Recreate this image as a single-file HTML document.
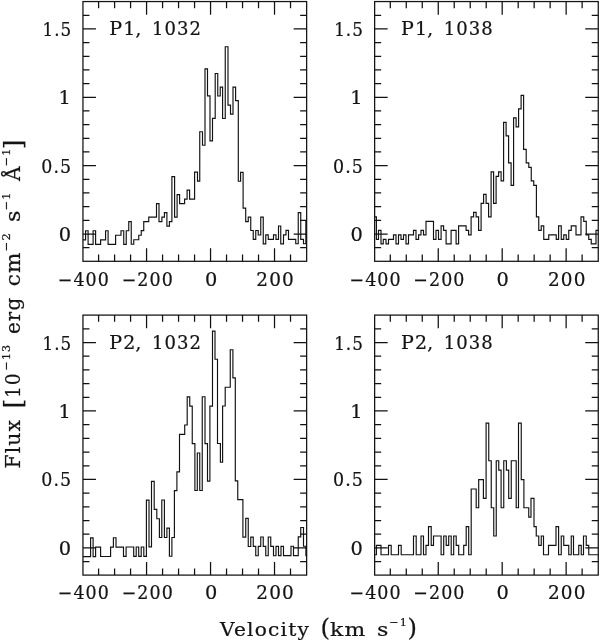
<!DOCTYPE html>
<html><head><meta charset="utf-8"><title>Flux vs Velocity</title>
<style>
html,body{margin:0;padding:0;background:#fff;}
svg{display:block;}
text{font-family:"DejaVu Serif", "Liberation Serif", serif;fill:#141414;stroke:#141414;stroke-width:0.22px;letter-spacing:1.1px;}
</style></head><body>
<svg width="600" height="641" viewBox="0 0 600 641">
<rect x="0" y="0" width="600" height="641" fill="#ffffff"/>
<rect x="82.95" y="1.55" width="223.70" height="259.75" fill="none" stroke="#111111" stroke-width="1.25"/>
<path d="M98.59 261.30v-6.7M98.59 1.55v6.7M114.59 261.30v-6.7M114.59 1.55v6.7M130.58 261.30v-6.7M130.58 1.55v6.7M146.57 261.30v-13.1M146.57 1.55v13.1M162.57 261.30v-6.7M162.57 1.55v6.7M178.56 261.30v-6.7M178.56 1.55v6.7M194.56 261.30v-6.7M194.56 1.55v6.7M210.55 261.30v-13.1M210.55 1.55v13.1M226.54 261.30v-6.7M226.54 1.55v6.7M242.54 261.30v-6.7M242.54 1.55v6.7M258.53 261.30v-6.7M258.53 1.55v6.7M274.52 261.30v-13.1M274.52 1.55v13.1M290.52 261.30v-6.7M290.52 1.55v6.7M82.95 247.67h6.5M306.65 247.67h-6.5M82.95 234.00h13.0M306.65 234.00h-13.0M82.95 220.33h6.5M306.65 220.33h-6.5M82.95 206.66h6.5M306.65 206.66h-6.5M82.95 192.99h6.5M306.65 192.99h-6.5M82.95 179.32h6.5M306.65 179.32h-6.5M82.95 165.65h13.0M306.65 165.65h-13.0M82.95 151.98h6.5M306.65 151.98h-6.5M82.95 138.31h6.5M306.65 138.31h-6.5M82.95 124.64h6.5M306.65 124.64h-6.5M82.95 110.97h6.5M306.65 110.97h-6.5M82.95 97.30h13.0M306.65 97.30h-13.0M82.95 83.63h6.5M306.65 83.63h-6.5M82.95 69.96h6.5M306.65 69.96h-6.5M82.95 56.29h6.5M306.65 56.29h-6.5M82.95 42.62h6.5M306.65 42.62h-6.5M82.95 28.95h13.0M306.65 28.95h-13.0M82.95 15.28h6.5M306.65 15.28h-6.5" fill="none" stroke="#111111" stroke-width="1.25"/>
<path d="M82.95 239.88H85.60V230.79H88.10V244.40H93.10V230.78H95.60V244.38H100.60V239.83H105.60V230.76H108.10V244.33H115.60V235.26H121.00V230.73H123.75V244.30H126.25V230.72H128.75V221.68H131.25V244.27H133.75V239.74H138.75V235.22H141.25V230.69H143.75V221.66H148.75V217.14H156.50V203.61H159.00V221.64H161.90V217.13H164.40V212.63H166.90V226.14H169.40V221.63H171.90V176.59H174.60V217.13H177.10V194.62H179.60V203.62H184.60V199.13H187.10V190.13H189.60V199.13H194.60V172.17H197.50V181.16H199.75V131.75H202.50V145.25H205.00V68.92H207.50V95.89H210.00V140.80H212.50V118.38H215.20V73.54H217.75V95.99H220.25V87.05H222.60V118.46H225.25V46.77H228.00V105.06H230.50V114.05H233.00V87.19H235.60V100.66H238.30V181.27H240.60V172.32H243.10V208.13H245.70V221.56H248.25V217.08H250.75V230.50H253.25V239.44H255.75V230.49H258.25V234.95H260.75V217.07H263.25V243.88H265.75V234.94H268.25V239.39H273.50V234.92H276.00V239.38H278.50V225.99H280.75V243.82H283.50V234.90H286.00V230.43H288.50V239.34H295.75V243.78H298.25V212.60H300.75V239.31H303.50V243.76H305.85V221.50H306.65" fill="none" stroke="#111111" stroke-width="1.15" stroke-linejoin="miter"/>
<text x="72.25" y="35.95" font-size="18.0" text-anchor="end" textLength="29.8" lengthAdjust="spacingAndGlyphs">1.5</text>
<text x="72.05" y="104.30" font-size="18.0" text-anchor="end" textLength="13.5" lengthAdjust="spacingAndGlyphs">1</text>
<text x="72.25" y="172.65" font-size="18.0" text-anchor="end" textLength="30.9" lengthAdjust="spacingAndGlyphs">0.5</text>
<text x="72.25" y="241.00" font-size="18.0" text-anchor="end" textLength="13.5" lengthAdjust="spacingAndGlyphs">0</text>
<text x="57.75" y="285.60" font-size="18.0" text-anchor="start" textLength="52.2" lengthAdjust="spacingAndGlyphs">−400</text>
<text x="121.66" y="285.60" font-size="18.0" text-anchor="start" textLength="52.2" lengthAdjust="spacingAndGlyphs">−200</text>
<text x="204.93" y="285.60" font-size="18.0" text-anchor="start" textLength="13.5" lengthAdjust="spacingAndGlyphs">0</text>
<text x="256.29" y="285.60" font-size="18.0" text-anchor="start" textLength="38.6" lengthAdjust="spacingAndGlyphs">200</text>
<text xml:space="preserve"><tspan x="109.25" y="35.05" font-size="18.00" textLength="27.2" lengthAdjust="spacingAndGlyphs">P1</tspan><tspan x="135.55" y="35.05" font-size="18.00" textLength="7.0" lengthAdjust="spacingAndGlyphs">,</tspan> <tspan x="151.95" y="35.05" font-size="18.00" textLength="50.2" lengthAdjust="spacingAndGlyphs">1032</tspan></text>
<rect x="374.65" y="1.55" width="223.60" height="259.75" fill="none" stroke="#111111" stroke-width="1.25"/>
<path d="M390.29 261.30v-6.7M390.29 1.55v6.7M406.27 261.30v-6.7M406.27 1.55v6.7M422.26 261.30v-6.7M422.26 1.55v6.7M438.25 261.30v-13.1M438.25 1.55v13.1M454.23 261.30v-6.7M454.23 1.55v6.7M470.22 261.30v-6.7M470.22 1.55v6.7M486.20 261.30v-6.7M486.20 1.55v6.7M502.19 261.30v-13.1M502.19 1.55v13.1M518.18 261.30v-6.7M518.18 1.55v6.7M534.16 261.30v-6.7M534.16 1.55v6.7M550.15 261.30v-6.7M550.15 1.55v6.7M566.14 261.30v-13.1M566.14 1.55v13.1M582.12 261.30v-6.7M582.12 1.55v6.7M374.65 247.67h6.5M598.25 247.67h-6.5M374.65 234.00h13.0M598.25 234.00h-13.0M374.65 220.33h6.5M598.25 220.33h-6.5M374.65 206.66h6.5M598.25 206.66h-6.5M374.65 192.99h6.5M598.25 192.99h-6.5M374.65 179.32h6.5M598.25 179.32h-6.5M374.65 165.65h13.0M598.25 165.65h-13.0M374.65 151.98h6.5M598.25 151.98h-6.5M374.65 138.31h6.5M598.25 138.31h-6.5M374.65 124.64h6.5M598.25 124.64h-6.5M374.65 110.97h6.5M598.25 110.97h-6.5M374.65 97.30h13.0M598.25 97.30h-13.0M374.65 83.63h6.5M598.25 83.63h-6.5M374.65 69.96h6.5M598.25 69.96h-6.5M374.65 56.29h6.5M598.25 56.29h-6.5M374.65 42.62h6.5M598.25 42.62h-6.5M374.65 28.95h13.0M598.25 28.95h-13.0M374.65 15.28h6.5M598.25 15.28h-6.5" fill="none" stroke="#111111" stroke-width="1.25"/>
<path d="M374.65 216.85H376.40V239.35H378.50V230.35H381.00V243.85H383.25V239.35H386.00V243.85H388.50V239.35H393.50V234.85H396.00V243.85H398.50V234.85H401.00V239.35H403.50V234.85H406.00V243.85H408.50V234.85H413.50V230.35H416.00V239.35H418.60V234.85H421.00V230.35H423.50V234.85H426.00V221.35H433.50V239.35H436.00V230.35H438.50V239.35H441.10V225.85H443.60V230.35H446.10V243.85H451.10V230.35H456.10V243.85H458.60V225.85H466.10V230.35H468.60V234.85H471.10V216.85H473.60V212.35H476.10V216.85H478.60V230.35H481.10V203.35H483.60V194.35H486.10V203.35H488.60V216.85H491.10V171.85H493.60V203.35H496.10V176.35H498.60V171.85H501.10V180.85H503.60V122.35H506.10V135.85H508.60V162.85H511.10V185.35H513.60V117.85H516.10V126.85H518.60V108.85H521.10V95.35H523.60V149.35H526.20V162.85H528.80V167.35H531.25V180.85H533.75V185.35H536.40V216.85H538.75V230.35H541.25V225.85H543.75V239.35H548.75V234.85H556.25V239.35H558.60V225.85H561.25V239.35H563.75V234.85H566.25V239.35H568.75V230.35H571.25V225.85H576.00V234.85H581.00V216.85H583.75V221.35H586.25V234.85H588.75V239.35H591.25V243.85H596.00V230.35H598.25" fill="none" stroke="#111111" stroke-width="1.15" stroke-linejoin="miter"/>
<text x="363.95" y="35.95" font-size="18.0" text-anchor="end" textLength="29.8" lengthAdjust="spacingAndGlyphs">1.5</text>
<text x="363.75" y="104.30" font-size="18.0" text-anchor="end" textLength="13.5" lengthAdjust="spacingAndGlyphs">1</text>
<text x="363.95" y="172.65" font-size="18.0" text-anchor="end" textLength="30.9" lengthAdjust="spacingAndGlyphs">0.5</text>
<text x="363.95" y="241.00" font-size="18.0" text-anchor="end" textLength="13.5" lengthAdjust="spacingAndGlyphs">0</text>
<text x="349.45" y="285.60" font-size="18.0" text-anchor="start" textLength="52.2" lengthAdjust="spacingAndGlyphs">−400</text>
<text x="413.34" y="285.60" font-size="18.0" text-anchor="start" textLength="52.2" lengthAdjust="spacingAndGlyphs">−200</text>
<text x="496.57" y="285.60" font-size="18.0" text-anchor="start" textLength="13.5" lengthAdjust="spacingAndGlyphs">0</text>
<text x="547.91" y="285.60" font-size="18.0" text-anchor="start" textLength="38.6" lengthAdjust="spacingAndGlyphs">200</text>
<text xml:space="preserve"><tspan x="400.95" y="35.05" font-size="18.00" textLength="27.2" lengthAdjust="spacingAndGlyphs">P1</tspan><tspan x="427.25" y="35.05" font-size="18.00" textLength="7.0" lengthAdjust="spacingAndGlyphs">,</tspan> <tspan x="443.65" y="35.05" font-size="18.00" textLength="50.2" lengthAdjust="spacingAndGlyphs">1038</tspan></text>
<rect x="82.95" y="315.10" width="223.70" height="260.00" fill="none" stroke="#111111" stroke-width="1.25"/>
<path d="M98.59 575.10v-6.7M98.59 315.10v6.7M114.59 575.10v-6.7M114.59 315.10v6.7M130.58 575.10v-6.7M130.58 315.10v6.7M146.57 575.10v-13.1M146.57 315.10v13.1M162.57 575.10v-6.7M162.57 315.10v6.7M178.56 575.10v-6.7M178.56 315.10v6.7M194.56 575.10v-6.7M194.56 315.10v6.7M210.55 575.10v-13.1M210.55 315.10v13.1M226.54 575.10v-6.7M226.54 315.10v6.7M242.54 575.10v-6.7M242.54 315.10v6.7M258.53 575.10v-6.7M258.53 315.10v6.7M274.52 575.10v-13.1M274.52 315.10v13.1M290.52 575.10v-6.7M290.52 315.10v6.7M82.95 561.59h6.5M306.65 561.59h-6.5M82.95 547.90h13.0M306.65 547.90h-13.0M82.95 534.21h6.5M306.65 534.21h-6.5M82.95 520.52h6.5M306.65 520.52h-6.5M82.95 506.82h6.5M306.65 506.82h-6.5M82.95 493.13h6.5M306.65 493.13h-6.5M82.95 479.44h13.0M306.65 479.44h-13.0M82.95 465.75h6.5M306.65 465.75h-6.5M82.95 452.06h6.5M306.65 452.06h-6.5M82.95 438.36h6.5M306.65 438.36h-6.5M82.95 424.67h6.5M306.65 424.67h-6.5M82.95 410.98h13.0M306.65 410.98h-13.0M82.95 397.29h6.5M306.65 397.29h-6.5M82.95 383.60h6.5M306.65 383.60h-6.5M82.95 369.90h6.5M306.65 369.90h-6.5M82.95 356.21h6.5M306.65 356.21h-6.5M82.95 342.52h13.0M306.65 342.52h-13.0M82.95 328.83h6.5M306.65 328.83h-6.5" fill="none" stroke="#111111" stroke-width="1.25"/>
<path d="M82.95 556.61H90.60V537.85H93.10V556.58H95.60V547.19H100.60V556.52H110.60V547.12H113.40V537.74H116.00V547.08H123.50V556.43H126.10V547.03H133.70V556.38H136.20V547.00H138.70V556.36H141.20V546.97H143.80V556.33H146.40V500.10H149.00V546.94H151.50V481.33H154.20V509.43H156.80V518.79H159.40V537.52H161.80V500.03H164.40V537.49H166.90V528.11H169.40V556.21H171.90V537.46H174.40V490.59H176.90V471.84H179.50V434.34H184.70V424.96H187.20V396.83H189.75V406.19H192.25V443.66H194.90V490.50H197.30V453.01H199.75V490.47H202.25V396.76H205.00V443.60H207.50V481.07H209.90V406.09H212.50V331.12H215.00V359.22H217.50V443.54H220.40V462.26H222.60V406.03H225.20V387.27H230.25V349.78H232.90V377.87H235.30V480.93H237.75V499.65H242.90V537.12H245.75V518.36H248.25V546.46H250.75V537.08H253.25V546.44H255.75V555.79H258.25V546.41H260.75V537.03H263.25V546.39H265.75V555.75H268.25V536.99H270.75V546.35H273.50V555.71H276.00V546.33H278.50V555.69H281.00V546.30H283.50V555.65H291.00V546.26H293.50V555.61H298.25V536.85H300.75V527.47H303.50V546.20H305.90V555.56H306.65" fill="none" stroke="#111111" stroke-width="1.15" stroke-linejoin="miter"/>
<text x="72.25" y="349.52" font-size="18.0" text-anchor="end" textLength="29.8" lengthAdjust="spacingAndGlyphs">1.5</text>
<text x="72.05" y="417.98" font-size="18.0" text-anchor="end" textLength="13.5" lengthAdjust="spacingAndGlyphs">1</text>
<text x="72.25" y="486.44" font-size="18.0" text-anchor="end" textLength="30.9" lengthAdjust="spacingAndGlyphs">0.5</text>
<text x="72.25" y="554.90" font-size="18.0" text-anchor="end" textLength="13.5" lengthAdjust="spacingAndGlyphs">0</text>
<text x="57.75" y="599.40" font-size="18.0" text-anchor="start" textLength="52.2" lengthAdjust="spacingAndGlyphs">−400</text>
<text x="121.66" y="599.40" font-size="18.0" text-anchor="start" textLength="52.2" lengthAdjust="spacingAndGlyphs">−200</text>
<text x="204.93" y="599.40" font-size="18.0" text-anchor="start" textLength="13.5" lengthAdjust="spacingAndGlyphs">0</text>
<text x="256.29" y="599.40" font-size="18.0" text-anchor="start" textLength="38.6" lengthAdjust="spacingAndGlyphs">200</text>
<text xml:space="preserve"><tspan x="109.25" y="348.60" font-size="18.00" textLength="27.2" lengthAdjust="spacingAndGlyphs">P2</tspan><tspan x="135.55" y="348.60" font-size="18.00" textLength="7.0" lengthAdjust="spacingAndGlyphs">,</tspan> <tspan x="151.95" y="348.60" font-size="18.00" textLength="50.2" lengthAdjust="spacingAndGlyphs">1032</tspan></text>
<rect x="374.65" y="315.10" width="223.60" height="260.00" fill="none" stroke="#111111" stroke-width="1.25"/>
<path d="M390.29 575.10v-6.7M390.29 315.10v6.7M406.27 575.10v-6.7M406.27 315.10v6.7M422.26 575.10v-6.7M422.26 315.10v6.7M438.25 575.10v-13.1M438.25 315.10v13.1M454.23 575.10v-6.7M454.23 315.10v6.7M470.22 575.10v-6.7M470.22 315.10v6.7M486.20 575.10v-6.7M486.20 315.10v6.7M502.19 575.10v-13.1M502.19 315.10v13.1M518.18 575.10v-6.7M518.18 315.10v6.7M534.16 575.10v-6.7M534.16 315.10v6.7M550.15 575.10v-6.7M550.15 315.10v6.7M566.14 575.10v-13.1M566.14 315.10v13.1M582.12 575.10v-6.7M582.12 315.10v6.7M374.65 561.59h6.5M598.25 561.59h-6.5M374.65 547.90h13.0M598.25 547.90h-13.0M374.65 534.21h6.5M598.25 534.21h-6.5M374.65 520.52h6.5M598.25 520.52h-6.5M374.65 506.82h6.5M598.25 506.82h-6.5M374.65 493.13h6.5M598.25 493.13h-6.5M374.65 479.44h13.0M598.25 479.44h-13.0M374.65 465.75h6.5M598.25 465.75h-6.5M374.65 452.06h6.5M598.25 452.06h-6.5M374.65 438.36h6.5M598.25 438.36h-6.5M374.65 424.67h6.5M598.25 424.67h-6.5M374.65 410.98h13.0M598.25 410.98h-13.0M374.65 397.29h6.5M598.25 397.29h-6.5M374.65 383.60h6.5M598.25 383.60h-6.5M374.65 369.90h6.5M598.25 369.90h-6.5M374.65 356.21h6.5M598.25 356.21h-6.5M374.65 342.52h13.0M598.25 342.52h-13.0M374.65 328.83h6.5M598.25 328.83h-6.5" fill="none" stroke="#111111" stroke-width="1.25"/>
<path d="M374.65 554.75H376.40V545.35H381.00V554.75H388.50V545.35H391.20V554.75H398.50V545.35H401.20V554.75H413.50V535.95H416.20V554.75H421.00V535.95H423.50V554.75H426.00V545.35H428.50V526.55H431.20V545.35H433.50V535.95H441.10V554.75H443.70V535.95H446.20V545.35H448.70V535.95H451.20V554.75H453.70V535.95H456.20V545.35H458.70V554.75H463.70V545.35H466.20V526.55H468.70V554.75H471.20V488.95H476.20V507.75H478.70V479.55H483.40V498.35H486.10V423.15H488.75V460.75H491.25V507.75H493.75V535.95H496.25V460.75H498.75V470.15H501.10V507.75H503.75V460.75H506.40V470.15H508.70V498.35H511.25V460.75H516.20V507.75H518.50V423.15H521.25V479.55H523.90V507.75H528.75V517.15H531.00V498.35H534.00V526.55H536.25V535.95H538.75V545.35H541.25V535.95H543.50V554.75H548.50V545.35H556.00V526.55H558.60V554.75H561.25V535.95H563.75V545.35H568.75V554.75H571.25V535.95H573.50V554.75H578.75V545.35H581.25V554.75H583.50V535.95H586.25V545.35H588.75V554.75H598.25" fill="none" stroke="#111111" stroke-width="1.15" stroke-linejoin="miter"/>
<text x="363.95" y="349.52" font-size="18.0" text-anchor="end" textLength="29.8" lengthAdjust="spacingAndGlyphs">1.5</text>
<text x="363.75" y="417.98" font-size="18.0" text-anchor="end" textLength="13.5" lengthAdjust="spacingAndGlyphs">1</text>
<text x="363.95" y="486.44" font-size="18.0" text-anchor="end" textLength="30.9" lengthAdjust="spacingAndGlyphs">0.5</text>
<text x="363.95" y="554.90" font-size="18.0" text-anchor="end" textLength="13.5" lengthAdjust="spacingAndGlyphs">0</text>
<text x="349.45" y="599.40" font-size="18.0" text-anchor="start" textLength="52.2" lengthAdjust="spacingAndGlyphs">−400</text>
<text x="413.34" y="599.40" font-size="18.0" text-anchor="start" textLength="52.2" lengthAdjust="spacingAndGlyphs">−200</text>
<text x="496.57" y="599.40" font-size="18.0" text-anchor="start" textLength="13.5" lengthAdjust="spacingAndGlyphs">0</text>
<text x="547.91" y="599.40" font-size="18.0" text-anchor="start" textLength="38.6" lengthAdjust="spacingAndGlyphs">200</text>
<text xml:space="preserve"><tspan x="400.95" y="348.60" font-size="18.00" textLength="27.2" lengthAdjust="spacingAndGlyphs">P2</tspan><tspan x="427.25" y="348.60" font-size="18.00" textLength="7.0" lengthAdjust="spacingAndGlyphs">,</tspan> <tspan x="443.65" y="348.60" font-size="18.00" textLength="50.2" lengthAdjust="spacingAndGlyphs">1038</tspan></text>
<text xml:space="preserve"><tspan x="220.00" y="635.60" font-size="18.00" textLength="90.2" lengthAdjust="spacingAndGlyphs">Velocity</tspan> <tspan x="320.40" y="636.10" font-size="24.84" textLength="10.6" lengthAdjust="spacingAndGlyphs">(</tspan><tspan x="330.00" y="635.60" font-size="18.00" textLength="36.7" lengthAdjust="spacingAndGlyphs">km</tspan> <tspan x="377.00" y="635.60" font-size="18.00" textLength="12.7" lengthAdjust="spacingAndGlyphs">s</tspan><tspan x="389.30" y="625.80" font-size="11.50" textLength="18.7" lengthAdjust="spacingAndGlyphs">−1</tspan><tspan x="407.50" y="636.10" font-size="24.84" textLength="10.6" lengthAdjust="spacingAndGlyphs">)</tspan></text>
<g transform="translate(20.4,0) rotate(-90)">
<text xml:space="preserve"><tspan x="-468.50" y="0.00" font-size="20.52" textLength="49.7" lengthAdjust="spacingAndGlyphs">Flux</tspan> <tspan x="-408.30" y="0.20" font-size="24.34" textLength="10.6" lengthAdjust="spacingAndGlyphs">[</tspan><tspan x="-398.00" y="0.00" font-size="20.52" textLength="25.7" lengthAdjust="spacingAndGlyphs">10</tspan><tspan x="-370.50" y="-10.70" font-size="11.73" textLength="26.7" lengthAdjust="spacingAndGlyphs">−13</tspan> <tspan x="-334.00" y="0.00" font-size="20.52" textLength="37.2" lengthAdjust="spacingAndGlyphs">erg</tspan> <tspan x="-286.20" y="0.00" font-size="20.52" textLength="34.7" lengthAdjust="spacingAndGlyphs">cm</tspan><tspan x="-251.20" y="-10.70" font-size="11.73" textLength="19.0" lengthAdjust="spacingAndGlyphs">−2</tspan> <tspan x="-221.90" y="0.00" font-size="20.52" textLength="12.7" lengthAdjust="spacingAndGlyphs">s</tspan><tspan x="-210.20" y="-10.70" font-size="11.73" textLength="18.7" lengthAdjust="spacingAndGlyphs">−1</tspan> <tspan x="-181.00" y="0.00" font-size="20.52" textLength="15.7" lengthAdjust="spacingAndGlyphs">Å</tspan><tspan x="-166.30" y="-10.70" font-size="11.73" textLength="18.7" lengthAdjust="spacingAndGlyphs">−1</tspan><tspan x="-149.30" y="0.20" font-size="24.34" textLength="10.6" lengthAdjust="spacingAndGlyphs">]</tspan></text>
</g>
</svg>
</body></html>
